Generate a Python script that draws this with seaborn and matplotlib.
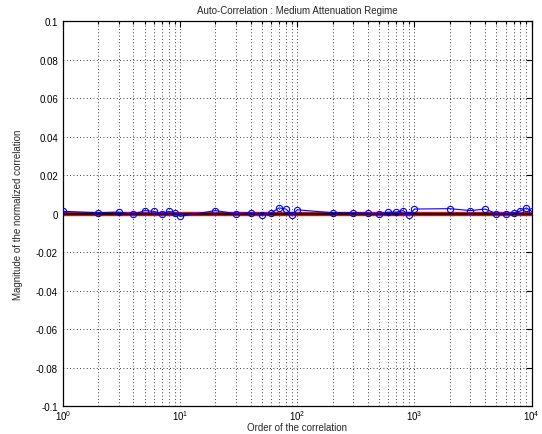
import numpy as np
import pandas as pd
import matplotlib
matplotlib.use("Agg")
import matplotlib.pyplot as plt
import matplotlib.ticker as mticker
import seaborn as sns

# correlation orders (1..9 per decade, up to 1e4)
orders = [1, 2, 3, 4, 5, 6, 7, 8, 9,
          10, 20, 30, 40, 50, 60, 70, 80, 90,
          100, 200, 300, 400, 500, 600, 700, 800, 900,
          1000, 2000, 3000, 4000, 5000, 6000, 7000, 8000, 9000,
          10000]
# normalized correlation magnitude
corr = [0.0012, 0.0005, 0.0008, -0.0003, 0.0016, 0.0012, -0.0003, 0.0012, 0.0005,
        -0.0014, 0.0016, 0.0000, 0.0005, -0.0008, 0.0005, 0.0030, 0.0024, -0.0006,
        0.0020, 0.0005, 0.0005, 0.0002, -0.0003, 0.0008, 0.0008, 0.0016, -0.0006,
        0.0024, 0.0026, 0.0016, 0.0024, 0.0000, 0.0000, 0.0004, 0.0014, 0.0030,
        0.0012]
bound_hi = 0.0008
bound_lo = -0.0008
y_ticks = [-0.1, -0.08, -0.06, -0.04, -0.02, 0, 0.02, 0.04, 0.06, 0.08, 0.1]

df = pd.DataFrame({"order": orders, "corr": corr})

sns.set_style("white")
plt.rcParams['font.family'] = ['Liberation Sans', 'DejaVu Sans']
plt.rcParams['mathtext.fontset'] = 'custom'
plt.rcParams['mathtext.rm'] = 'Liberation Sans'

fig = plt.figure(figsize=(5.42, 4.35), dpi=100)
ax = fig.add_axes([0.116, 0.064, 0.865, 0.885])

ax.axhline(bound_hi, color="red", lw=1.0, zorder=2)
ax.axhline(bound_lo, color="red", lw=1.0, zorder=2)
ax.axhline(0, color="black", lw=1.5, zorder=3)
sns.lineplot(data=df, x="order", y="corr", ax=ax, color="blue", lw=0.8,
             marker="o", markersize=4.5, markerfacecolor="none",
             markeredgecolor="blue", markeredgewidth=0.8, zorder=4)

ax.set_xscale("log")
ax.set_xlim(1, 10000)
ax.set_ylim(-0.1, 0.1)
ax.set_yticks(y_ticks)
ax.yaxis.set_major_formatter(mticker.FuncFormatter(lambda v, p: "%g" % round(v, 3)))
ax.xaxis.set_minor_locator(mticker.LogLocator(base=10, subs=np.arange(2, 10)))
ax.xaxis.set_minor_formatter(mticker.NullFormatter())

ax.grid(True, which="major", axis="both", color="black", ls=(0, (1, 3)), lw=0.6)
ax.grid(True, which="minor", axis="x", color="black", ls=(0, (1, 3)), lw=0.6)

ax.tick_params(which="both", direction="in", top=True, right=True, labelsize=7, colors="black")
ax.tick_params(which="major", length=4, width=0.8)
ax.tick_params(which="minor", length=2, width=0.8)
ax.tick_params(axis="x", which="major", pad=1.5)
for s in ax.spines.values():
    s.set_color("black")
    s.set_linewidth(0.9)

ax.set_title("Auto-Correlation : Medium Attenuation Regime", fontsize=7, pad=6)
ax.set_xlabel("Order of the correlation", fontsize=7, labelpad=0)
ax.set_ylabel("Magnitude of the normalized correlation", fontsize=7, labelpad=9)

plt.savefig("out.png", dpi=100)
